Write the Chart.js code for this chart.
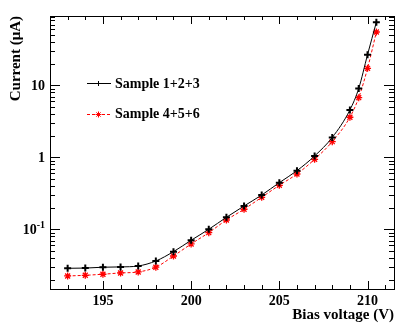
<!DOCTYPE html>
<html>
<head>
<meta charset="utf-8">
<script src="https://cdn.jsdelivr.net/npm/chart.js@4/dist/chart.umd.min.js"></script>
<style>
  html, body { margin: 0; padding: 0; background: #fff; }
  #wrap { width: 415px; height: 329px; position: relative; }
</style>
</head>
<body>
<div id="wrap"><canvas id="c" width="415" height="329"></canvas></div>
<script>
// ---- data ----
const voltages = [193, 194, 195, 196, 197, 198, 199, 200, 201, 202, 203, 204, 205, 206, 207, 208, 209, 209.5, 210, 210.5];
const sample123 = [0.0289, 0.0291, 0.0299, 0.0302, 0.0311, 0.0365, 0.0492, 0.0708, 0.1006, 0.1476, 0.212, 0.301, 0.447, 0.656, 1.05, 1.90, 4.57, 9.09, 26.8, 75.7];
const sample456 = [0.0226, 0.0231, 0.0239, 0.0249, 0.0257, 0.0299, 0.0428, 0.0629, 0.0903, 0.1355, 0.191, 0.280, 0.411, 0.590, 0.944, 1.66, 3.62, 6.77, 17.3, 55.3];
const seriesNames = ['Sample 1+2+3', 'Sample 4+5+6'];
const xTickValues = [195, 200, 205, 210];
const xTickLabels = ['195', '200', '205', '210'];
const yTickValues = [0.1, 1, 10];
const yTickLabels = [['10', '-1'], ['1', ''], ['10', '']];
const xTitle = 'Bias voltage (V)';
const yTitle = 'Current (\u03bcA)';

const FONT = '"Liberation Serif", "DejaVu Serif", serif';

const rootAxes = {
  id: 'rootAxes',
  afterDatasetsDraw(chart) {
    const ctx = chart.ctx;
    const a = chart.chartArea;
    const xs = chart.scales.x, ys = chart.scales.y;
    ctx.save();
    ctx.strokeStyle = '#000';
    ctx.lineWidth = 1;
    ctx.setLineDash([]);
    // frame
    ctx.strokeRect(Math.round(a.left) + 0.5, Math.round(a.top) + 0.5,
      Math.round(a.right - a.left), Math.round(a.bottom - a.top));
    ctx.beginPath();
    // x ticks (bottom and top)
    for (let v = Math.ceil(xs.min); v <= xs.max; v++) {
      const px = Math.round(xs.getPixelForValue(v)) + 0.5;
      const major = xTickValues.includes(v);
      const len = major ? 8 : 4;
      ctx.moveTo(px, a.bottom); ctx.lineTo(px, a.bottom - len);
      ctx.moveTo(px, a.top); ctx.lineTo(px, a.top + len);
    }
    // y ticks (left and right), log decades
    for (let e = -2; e <= 1; e++) {
      for (let m = 1; m <= 9; m++) {
        const v = m * Math.pow(10, e);
        if (v < ys.min || v > ys.max) continue;
        const py = Math.round(ys.getPixelForValue(v)) + 0.5;
        const len = m === 1 ? 10 : 5;
        ctx.moveTo(a.left, py); ctx.lineTo(a.left + len, py);
        ctx.moveTo(a.right, py); ctx.lineTo(a.right - len, py);
      }
    }
    ctx.stroke();

    // x tick labels
    ctx.fillStyle = '#000';
    ctx.font = 'bold 14px ' + FONT;
    ctx.textAlign = 'center';
    ctx.textBaseline = 'alphabetic';
    xTickValues.forEach((v, i) => {
      ctx.fillText(xTickLabels[i], xs.getPixelForValue(v), 305);
    });
    // y tick labels
    yTickValues.forEach((v, i) => {
      const py = ys.getPixelForValue(v);
      const [base, sup] = yTickLabels[i];
      let right = 45;
      if (sup) {
        ctx.font = 'bold 10px ' + FONT;
        ctx.textAlign = 'right';
        ctx.fillText(sup, right, py - 1);
        right -= ctx.measureText(sup).width;
      }
      ctx.font = 'bold 14px ' + FONT;
      ctx.textAlign = 'right';
      ctx.fillText(base, right, py + 5);
    });
    // axis titles
    ctx.font = 'bold 15px ' + FONT;
    ctx.textAlign = 'right';
    ctx.fillText(xTitle, a.right, 319);
    ctx.save();
    ctx.translate(20, a.top);
    ctx.rotate(-Math.PI / 2);
    ctx.textAlign = 'right';
    ctx.fillText(yTitle, 0, 0);
    ctx.restore();

    // legend
    const ds = chart.data.datasets;
    const rows = [83, 113.5];
    const legendRadius = [2.5, 3];
    ds.forEach((d, i) => {
      const y = Math.round(rows[i]) + 0.5;
      ctx.save();
      ctx.strokeStyle = d.borderColor;
      ctx.lineWidth = d.borderWidth;
      ctx.setLineDash(d.borderDash || []);
      ctx.beginPath();
      ctx.moveTo(87, y); ctx.lineTo(111, y);
      ctx.stroke();
      ctx.setLineDash([]);
      ctx.strokeStyle = d.pointBorderColor;
      ctx.fillStyle = d.pointBorderColor;
      Chart.helpers.drawPoint(ctx, {
        pointStyle: d.pointStyle, radius: legendRadius[i], borderWidth: d.pointBorderWidth, rotation: 0
      }, 98.5, y);
      ctx.restore();
      ctx.font = 'bold 14px ' + FONT;
      ctx.textAlign = 'left';
      ctx.fillStyle = '#000';
      ctx.fillText(seriesNames[i], 115, rows[i] + 4.5);
    });
    ctx.restore();
  }
};

new Chart(document.getElementById('c'), {
  type: 'line',
  data: {
    datasets: [
      {
        label: seriesNames[0],
        data: voltages.map((v, i) => ({ x: v, y: sample123[i] })),
        borderColor: '#000',
        backgroundColor: '#000',
        borderWidth: 1,
        pointStyle: 'cross',
        pointRadius: 3.5,
        pointBorderWidth: 2,
        pointBorderColor: '#000',
        cubicInterpolationMode: 'monotone',
        fill: false
      },
      {
        label: seriesNames[1],
        data: voltages.map((v, i) => ({ x: v, y: sample456[i] })),
        borderColor: '#ff0000',
        backgroundColor: '#ff0000',
        borderWidth: 1,
        borderDash: [3, 2],
        pointStyle: 'star',
        pointRadius: 3.5,
        pointBorderWidth: 1.3,
        pointBorderColor: '#ff0000',
        cubicInterpolationMode: 'monotone',
        fill: false
      }
    ]
  },
  options: {
    responsive: false,
    animation: false,
    devicePixelRatio: 1,
    layout: { padding: { left: 50, right: 21, top: 16, bottom: 40 } },
    plugins: { legend: { display: false }, tooltip: { enabled: false } },
    scales: {
      x: { type: 'linear', min: 192, max: 211.5, display: false },
      y: { type: 'logarithmic', min: 0.0149, max: 92.3, display: false }
    }
  },
  plugins: [rootAxes]
});
</script>
</body>
</html>
